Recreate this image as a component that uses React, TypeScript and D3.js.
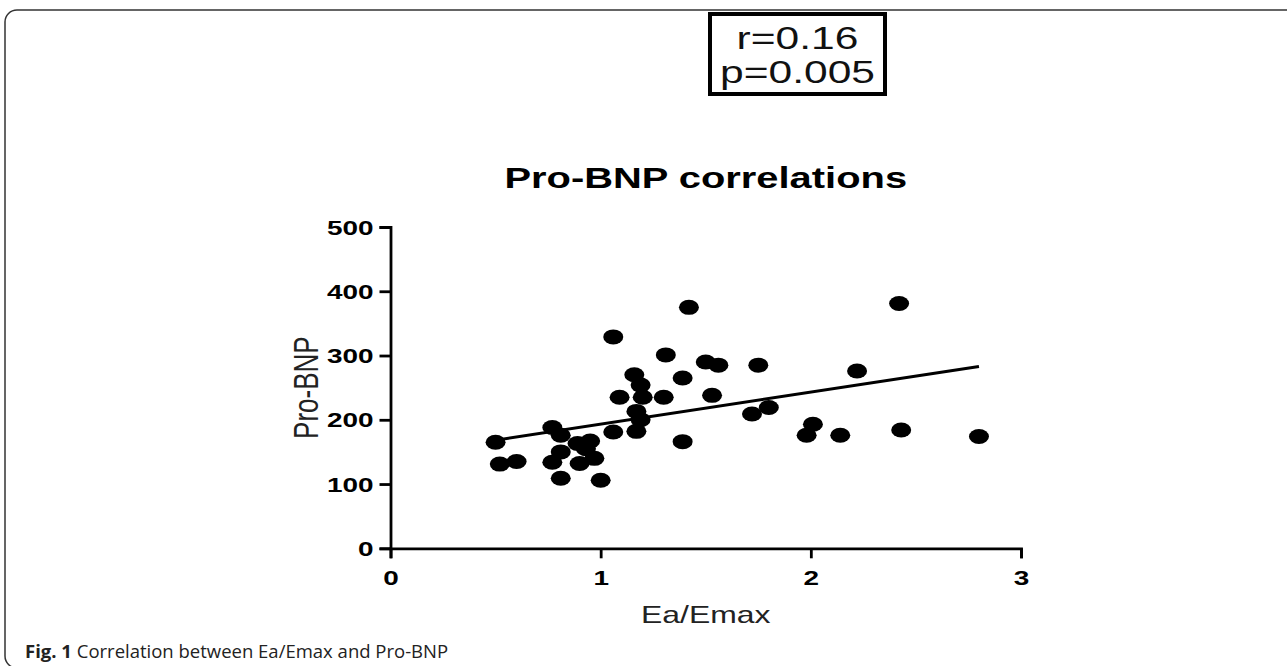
import { useEffect, useRef } from 'react';
import * as d3 from 'd3';

// Ea/Emax vs Pro-BNP
const eaEmax = [
  0.5, 0.52, 0.6, 0.77, 0.77, 0.81, 0.81, 0.81, 0.89, 0.95, 0.93, 0.9, 0.97, 1.0,
  1.06, 1.06, 1.09, 1.16, 1.19, 1.2, 1.17, 1.19, 1.17, 1.31, 1.3, 1.39, 1.39, 1.42,
  1.5, 1.56, 1.53, 1.75, 1.72, 1.8, 1.98, 2.01, 2.14, 2.22, 2.42, 2.43, 2.8,
];
const proBnp = [
  165, 131, 135, 188, 134, 176, 150, 109, 163, 167, 155, 132, 140, 106,
  329, 181, 235, 270, 254, 235, 213, 200, 182, 301, 235, 265, 166, 375,
  290, 285, 238, 285, 209, 219, 176, 193, 176, 276, 381, 184, 174,
];

const xTicks = [0, 1, 2, 3];
const yTicks = [0, 100, 200, 300, 400, 500];
const statLines = ['r=0.16', 'p=0.005'];
const chartTitle = 'Pro-BNP correlations';
const xLabel = 'Ea/Emax';
const yLabel = 'Pro-BNP';
const captionBold = 'Fig. 1';
const captionText = ' Correlation between Ea/Emax and Pro-BNP';

const W = 1287;
const H = 666;
const SX = 1.33; // the source figure is stretched sideways
const ARIAL = '"Liberation Sans", Arial, sans-serif';

export default function App() {
  const axesRef = useRef<SVGGElement>(null);

  const x = d3.scaleLinear().domain([0, 3]).range([390.5, 1021]);
  const y = d3.scaleLinear().domain([0, 500]).range([548.3, 227]);

  const points = eaEmax.map((v, i) => ({ x: v, y: proBnp[i] }));

  // least squares fit, drawn over the data range
  const mx = d3.mean(eaEmax)!;
  const my = d3.mean(proBnp)!;
  const slope =
    d3.sum(points, (d) => (d.x - mx) * (d.y - my)) / d3.sum(points, (d) => (d.x - mx) ** 2);
  const icpt = my - slope * mx;
  const [xMin, xMax] = d3.extent(eaEmax) as [number, number];
  const fit = d3
    .line<number>()
    .x((v) => x(v))
    .y((v) => y(icpt + slope * v));

  useEffect(() => {
    document.body.style.margin = '0';
    if (!axesRef.current) return;
    const g = d3.select(axesRef.current);
    g.selectAll('*').remove();

    const xAxis = g
      .append('g')
      .attr('transform', `translate(0,${y(0)})`)
      .call(d3.axisBottom(x).tickValues(xTicks).tickSize(10).tickFormat(() => ''));
    const yAxis = g
      .append('g')
      .attr('transform', `translate(${x(0)},0)`)
      .call(d3.axisLeft(y).tickValues(yTicks).tickSize(11).tickFormat(() => ''));

    g.selectAll('.domain, .tick line')
      .attr('stroke', '#000')
      .attr('stroke-width', 2.8);

    // tick labels, stretched like the source
    xAxis
      .selectAll('.tick')
      .append('text')
      .attr('transform', `translate(0,37) scale(${SX},1)`)
      .attr('text-anchor', 'middle')
      .attr('fill', '#000')
      .style('font', `bold 21px ${ARIAL}`)
      .text((d) => String(d));

    yAxis
      .selectAll('.tick')
      .append('text')
      .attr('transform', `translate(-17,7) scale(${SX},1)`)
      .attr('text-anchor', 'end')
      .attr('fill', '#000')
      .style('font', `bold 21px ${ARIAL}`)
      .text((d) => String(d));
  }, []);

  return (
    <svg width={W} height={H} style={{ display: 'block', background: '#fff' }}>
      <rect x={5} y={10} width={W + 20} height={658} rx={12} fill="none" stroke="#333" strokeWidth={1.5} />

      <rect x={710} y={14} width={175} height={80} fill="#fff" stroke="#000" strokeWidth={4} />
      {statLines.map((s, i) => (
        <text
          key={s}
          transform={`translate(797.5,${49 + i * 34}) scale(${SX},1)`}
          textAnchor="middle"
          style={{ font: `32px ${ARIAL}` }}
          fill="#111"
        >
          {s}
        </text>
      ))}

      <text
        transform={`translate(${(x(0) + x(3)) / 2},188) scale(${SX},1)`}
        textAnchor="middle"
        style={{ font: `bold 30px ${ARIAL}` }}
        fill="#000"
      >
        {chartTitle}
      </text>

      <g ref={axesRef} />

      <path d={fit([xMin, xMax]) ?? ''} fill="none" stroke="#000" strokeWidth={3} />

      {points.map((d, i) => (
        <ellipse key={i} cx={x(d.x)} cy={y(d.y)} rx={10} ry={7.5} fill="#000" />
      ))}

      <text
        transform={`translate(${(x(0) + x(3)) / 2},623) scale(${SX},1)`}
        textAnchor="middle"
        style={{ font: `24px ${ARIAL}` }}
        fill="#222"
      >
        {xLabel}
      </text>
      <text
        transform={`translate(318,${(y(0) + y(500)) / 2}) scale(${SX},1) rotate(-90)`}
        textAnchor="middle"
        style={{ font: `26px ${ARIAL}` }}
        fill="#222"
      >
        {yLabel}
      </text>

      <text x={25} y={658} style={{ font: `18.5px "Open Sans", sans-serif` }} fill="#222">
        <tspan fontWeight="bold">{captionBold}</tspan>
        {captionText}
      </text>
    </svg>
  );
}
